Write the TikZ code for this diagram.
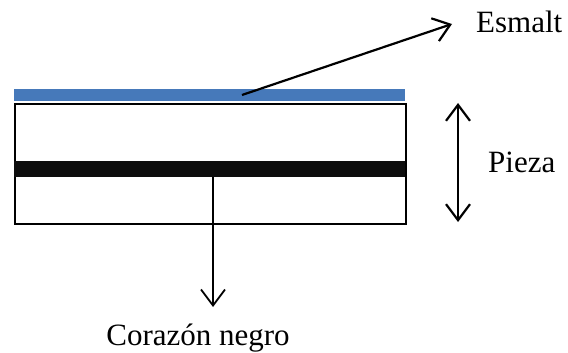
\documentclass[tikz,border=0pt]{standalone}
\usepackage{fontspec}
\setmainfont{Liberation Serif}
\usetikzlibrary{arrows.meta,positioning,calc}
\definecolor{glazeblue}{RGB}{70,121,186}

\begin{document}
\begin{tikzpicture}[
  x=1pt, y=-1pt,
  layer/.style={rectangle, inner sep=0pt, minimum width=391pt, anchor=north west},
  lbl/.style={font=\fontsize{31}{37}\selectfont, inner sep=0pt, anchor=base west},
  barb/.tip={Straight Barb[length=16pt,width=24pt]},
  arr/.style={-barb, line width=2.2pt},
  darr/.style={barb-barb, line width=2.2pt}
]
\useasboundingbox (0,0) rectangle (568,353);

\node[layer, fill=glazeblue, minimum height=12pt] (glaze) at (14,89) {};
\node[layer, draw, line width=1.7pt, minimum height=120pt] (body) at (14,103) {};
\node[layer, fill=black!95, minimum height=16pt] (core) at (14,161) {};

\node[lbl] (esmalt) at (476,33) {Esmalt};
\node[lbl] (pieza) at (488,172) {Pieza};
\node[lbl, anchor=base] (corazon) at (198,345) {Corazón negro};

\coordinate (glazept) at (242,95);
\coordinate (esmalttip) at (452,24);
\coordinate (ptop) at (458,103);
\coordinate (pbot) at (458,222);
\coordinate (coretip) at (213,307);

\draw[arr] (glazept) -- (esmalttip);
\draw[darr] (ptop) -- (pbot);
\draw[arr, line width=1.8pt] (core.south -| coretip) -- (coretip);
\end{tikzpicture}
\end{document}
